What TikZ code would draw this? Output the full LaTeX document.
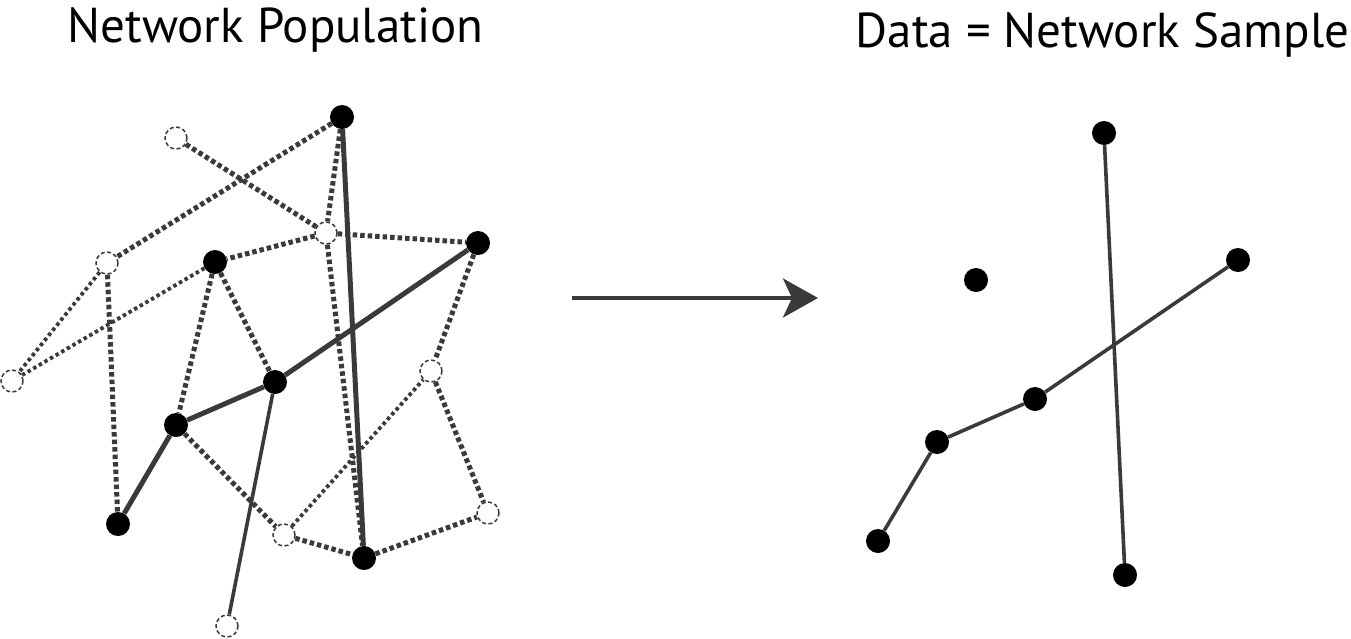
\documentclass[tikz,border=0pt]{standalone}
\usepackage{fontspec}
\setmainfont{PT Sans}
\usetikzlibrary{arrows.meta}
\definecolor{tiegray}{RGB}{58,58,58}
\tikzset{
    seen/.style={circle, fill=black, inner sep=0pt, minimum size=24pt},
    unseen/.style={circle, draw=tiegray, line width=1.5pt, dash pattern=on 4pt off 2.5pt, inner sep=0pt, minimum size=22pt},
    tie/.style={draw=tiegray, line width=5pt},
    thintie/.style={draw=tiegray, line width=3.6pt},
    dottie/.style={draw=tiegray, line width=5pt, dash pattern=on 4.5pt off 3pt},
    faintdot/.style={draw=tiegray, line width=3.8pt, dash pattern=on 3.5pt off 3pt},
    title/.style={anchor=base, font=\fontsize{49}{56}\selectfont}
}
\begin{document}
\begin{tikzpicture}[x=1pt, y=-1pt]
    \useasboundingbox (0,0) rectangle (1351,638);
    \node[title] (poptitle) at (275.5,42) {Network Population};
    \node[title] (samtitle) at (1102.5,47) {Data = Network Sample};
    %\\ population: sampled nodes
    \node[seen] (pa) at (342,117) {};
    \node[seen] (pb) at (478,243) {};
    \node[seen] (pc) at (215,262) {};
    \node[seen] (pd) at (275,382) {};
    \node[seen] (pe) at (176,425) {};
    \node[seen] (pf) at (118,524) {};
    \node[seen] (pg) at (364,558) {};
    %\\ population: unsampled nodes
    \node[unseen] (ua) at (176,138) {};
    \node[unseen] (ub) at (326,233) {};
    \node[unseen] (uc) at (107,263) {};
    \node[unseen] (ud) at (12,381) {};
    \node[unseen] (ue) at (431,371) {};
    \node[unseen] (uf) at (284,535) {};
    \node[unseen] (ug) at (488,513) {};
    \node[unseen] (uh) at (227,626) {};
    %\\ unobserved ties
    \draw[dottie] (pa)--(uc);
    \draw[dottie] (ua)--(ub);
    \draw[dottie] (pa)--(ub);
    \draw[dottie] (ub)--(pc);
    \draw[dottie] (ub)--(pb);
    \draw[dottie] (ub)--(pg);
    \draw[dottie] (uc)--(pf);
    \draw[dottie] (pc)--(pe);
    \draw[dottie] (pc)--(pd);
    \draw[dottie] (pb)--(ue);
    \draw[dottie] (pe)--(uf);
    \draw[dottie] (ue)--(ug);
    \draw[dottie] (uf)--(pg);
    \draw[dottie] (pg)--(ug);
    \draw[faintdot] (uc)--(ud);
    \draw[faintdot] (pc)--(ud);
    \draw[faintdot] (uf)--(ue);
    %\\ observed ties
    \draw[tie] (pa)--(pg);
    \draw[tie] (pb)--(pd);
    \draw[tie] (pd)--(pe);
    \draw[tie] (pe)--(pf);
    \draw[thintie] (pd)--(uh);
    %\\ arrow
    \coordinate (from) at (572,298);
    \coordinate (to) at (818,298);
    \draw[thintie, line width=4pt, -{Stealth[length=35pt, width=39pt, inset=9pt]}] (from)--(to);
    %\\ sample
    \node[seen] (sa) at (1104,133) {};
    \node[seen] (sb) at (1238,260) {};
    \node[seen] (si) at (976,280) {};
    \node[seen] (sd) at (1035,399) {};
    \node[seen] (se) at (937,442) {};
    \node[seen] (sf) at (878,541) {};
    \node[seen] (sg) at (1125,575) {};
    \draw[thintie] (sa)--(sg);
    \draw[thintie] (sb)--(sd);
    \draw[thintie] (sd)--(se);
    \draw[thintie] (se)--(sf);
\end{tikzpicture}
\end{document}
